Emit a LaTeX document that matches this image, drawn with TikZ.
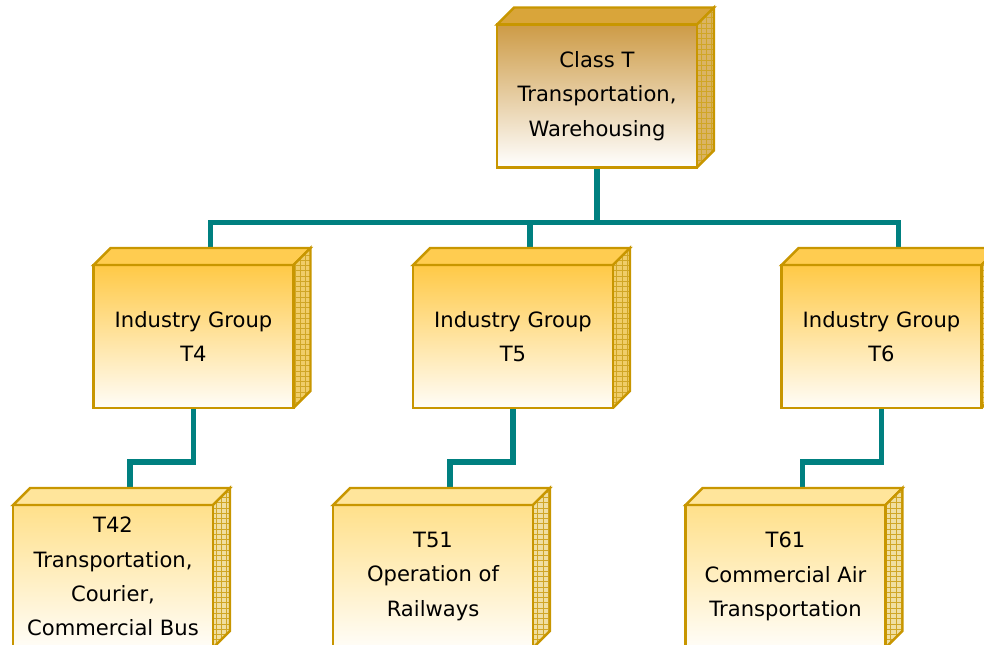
\documentclass[tikz,border=0pt]{standalone}
\usepackage{fontspec}
\setmainfont{DejaVu Sans}
\usetikzlibrary{calc,patterns,backgrounds}
\definecolor{rim}{RGB}{200,150,0}
\definecolor{teal}{RGB}{0,128,128}
\definecolor{classtop}{RGB}{205,155,70}
\definecolor{classlid}{RGB}{217,165,58}
\definecolor{classside}{RGB}{218,180,100}
\definecolor{grouptop}{RGB}{255,201,70}
\definecolor{grouplid}{RGB}{255,204,80}
\definecolor{groupside}{RGB}{240,205,105}
\definecolor{leaftop}{RGB}{255,224,138}
\definecolor{leaflid}{RGB}{255,229,155}
\definecolor{leafside}{RGB}{240,222,160}
\tikzset{
  crate/.style={rectangle, outer sep=0pt,
    minimum width=4cm, minimum height=2.86cm, align=center,
    font=\fontsize{12pt}{19.5pt}\selectfont},
  classbox/.style={crate, top color=classtop, bottom color=white},
  groupbox/.style={crate, top color=grouptop, bottom color={rgb,255:red,255;green,253;blue,248}},
  leafbox/.style={crate, top color=leaftop, bottom color={rgb,255:red,255;green,253;blue,248}},
  face/.style={draw=rim, line width=1.4pt, line join=miter},
  link/.style={teal, line width=3.2pt, line join=miter}
}
% lid, right side and rim of a crate node: #1 name, #2 lid colour, #3 side colour
\newcommand{\cratefaces}[3]{
  \filldraw[face, fill=#2] (#1.north west) -- ++(17,-17) -- ($(#1.north east)+(17,-17)$)
    -- (#1.north east) -- cycle;
  \fill[#3] (#1.north east) -- ++(17,-17) -- ($(#1.south east)+(17,-17)$)
    -- (#1.south east) -- cycle;
  \fill[pattern=grid, pattern color=rim!85] (#1.north east) -- ++(17,-17)
    -- ($(#1.south east)+(17,-17)$) -- (#1.south east) -- cycle;
  \draw[face] (#1.north east) -- ++(17,-17) -- ($(#1.south east)+(17,-17)$)
    -- (#1.south east);
  \draw[face] (#1.south west) -- (#1.north west) -- (#1.north east)
    -- (#1.south east) -- cycle;
  \coordinate (#1-lid) at ($(#1.north)+(17,-17)$);
}

\begin{document}
\begin{tikzpicture}[x=0.02cm, y=-0.02cm]
  \useasboundingbox (0,0) rectangle (984,645);
  \clip (0,0) rectangle (984,645);

  \node[classbox] (classT) at (597,96) {Class T\\Transportation,\\Warehousing};
  \cratefaces{classT}{classlid}{classside}

  \node[groupbox] (t4) at (193.5,336.5) {Industry Group\\T4};
  \node[groupbox] (t5) at (513,336.5) {Industry Group\\T5};
  \node[groupbox] (t6) at (881.5,336.5) {Industry Group\\T6};
  \foreach \g in {t4,t5,t6} {\cratefaces{\g}{grouplid}{groupside}}

  \node[leafbox] (t42) at (113,576.5) {T42\\Transportation,\\Courier,\\Commercial Bus};
  \node[leafbox] (t51) at (433,576.5) {T51\\Operation of\\Railways};
  \node[leafbox] (t61) at (785.5,576.5) {T61\\Commercial Air\\Transportation};
  \foreach \l in {t42,t51,t61} {\cratefaces{\l}{leaflid}{leafside}}

  \begin{scope}[on background layer]
    \draw[link] (classT.south) -- ++(0,55) -| (t4-lid);
    \draw[link] (classT.south) -- ++(0,55) -| (t5-lid);
    \draw[link] (classT.south) -- ++(0,55) -| (t6-lid);
    \draw[link] (t4.south) -- ++(0,54) -| (t42-lid);
    \draw[link] (t5.south) -- ++(0,54) -| (t51-lid);
    \draw[link] (t6.south) -- ++(0,54) -| (t61-lid);
  \end{scope}
\end{tikzpicture}
\end{document}
